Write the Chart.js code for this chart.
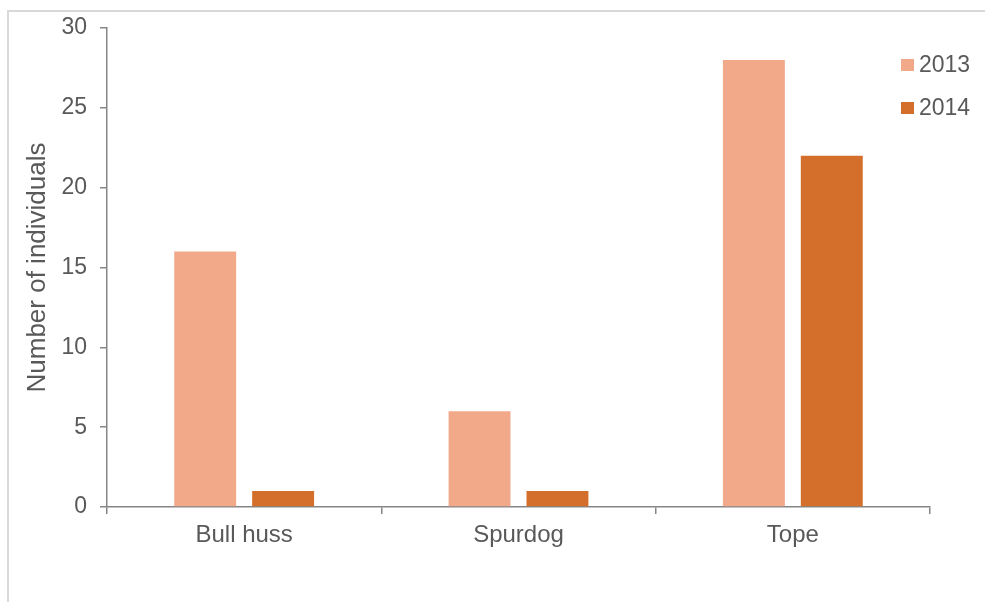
<!DOCTYPE html>
<html>
<head>
<meta charset="utf-8">
<script src="https://cdn.jsdelivr.net/npm/chart.js@4/dist/chart.umd.min.js"></script>
<style>
  html, body { margin: 0; padding: 0; background: #fff; }
  body { width: 985px; height: 602px; position: relative; overflow: hidden; }
  #frame { position: absolute; left: 7px; top: 10px; width: 1100px; height: 700px;
           border-left: 2px solid #d9d9d9; border-top: 2px solid #d9d9d9; box-sizing: border-box; }
  #wrap { position: absolute; left: 0; top: 0; width: 985px; height: 602px; }
</style>
</head>
<body>
<div id="frame"></div>
<div id="wrap"><canvas id="c" width="985" height="602"></canvas></div>
<script>
const categories = ["Bull huss", "Spurdog", "Tope"];
const seriesNames = ["2013", "2014"];
const values2013 = [16, 6, 28];
const values2014 = [1, 1, 22];
const yTicks = [0, 5, 10, 15, 20, 25, 30];
const seriesColors = ["#F1A98A", "#D46F2B"];

const FONT = "'Liberation Sans', Arial, sans-serif";
const TXT = "#595959";
const AX = "#868686";

const legendPlugin = {
  id: 'customLegend',
  afterDraw(chart) {
    const ctx = chart.ctx;
    ctx.save();
    ctx.font = "23px " + FONT;
    ctx.textBaseline = 'middle';
    ctx.textAlign = 'left';
    chart.data.datasets.forEach((ds, i) => {
      const cy = 65 + i * 43;
      ctx.fillStyle = ds.backgroundColor;
      ctx.fillRect(901, cy - 6, 13, 12);
      ctx.fillStyle = TXT;
      ctx.fillText(ds.label, 919, cy + 1);
    });
    ctx.restore();
  }
};

new Chart(document.getElementById('c'), {
  type: 'bar',
  data: {
    labels: categories,
    datasets: [
      { label: seriesNames[0], data: values2013, backgroundColor: seriesColors[0],
        categoryPercentage: 0.568, barPercentage: 0.795 },
      { label: seriesNames[1], data: values2014, backgroundColor: seriesColors[1],
        categoryPercentage: 0.568, barPercentage: 0.795 }
    ]
  },
  options: {
    responsive: false,
    animation: false,
    layout: { padding: { left: 0, right: 55, top: 28, bottom: 0 } },
    plugins: { legend: { display: false }, tooltip: { enabled: false } },
    scales: {
      x: {
        grid: { drawOnChartArea: false, drawTicks: true, tickLength: 7, color: AX, lineWidth: 1.5, offset: true },
        border: { color: AX, width: 1.5 },
        ticks: { color: TXT, font: { family: FONT, size: 24 }, padding: 7 },
        afterFit(scale) { scale.height = 95; }
      },
      y: {
        min: 0, max: 30,
        afterBuildTicks(scale) { scale.ticks = yTicks.map(v => ({ value: v })); },
        grid: { drawOnChartArea: false, drawTicks: true, tickLength: 7, color: AX, lineWidth: 1.5 },
        border: { color: AX, width: 1.5 },
        ticks: { color: TXT, font: { family: FONT, size: 23 }, padding: 13 },
        title: { display: true, text: "Number of individuals", color: TXT,
                 font: { family: FONT, size: 26 }, padding: { top: 22, bottom: 0 } },
        afterFit(scale) { scale.width = 107; }
      }
    }
  },
  plugins: [legendPlugin]
});
</script>
</body>
</html>
